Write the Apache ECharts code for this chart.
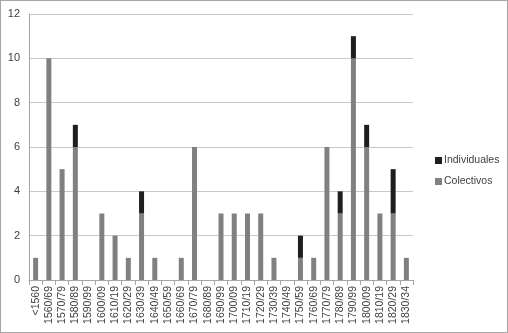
<!DOCTYPE html>
<html><head><meta charset="utf-8">
<script src="https://cdn.jsdelivr.net/npm/echarts@6/dist/echarts.min.js"></script>
<style>
html,body{margin:0;padding:0;background:#fff;}
#c{width:508px;height:333px;box-sizing:border-box;border:1px solid #a6a6a6;}
</style></head><body>
<div id="c"></div>
<script>
var categories = ['<1560','1560/69','1570/79','1580/89','1590/99','1600/09','1610/19','1620/29','1630/39','1640/49','1650/59','1660/69','1670/79','1680/89','1690/99','1700/09','1710/19','1720/29','1730/39','1740/49','1750/59','1760/69','1770/79','1780/89','1790/99','1800/09','1810/19','1820/29','1830/34'];
var colectivos = [1,10,5,6,0,3,2,1,3,1,0,1,6,0,3,3,3,3,1,0,1,1,6,3,10,6,3,3,1];
var individuales = [0,0,0,1,0,0,0,0,1,0,0,0,0,0,0,0,0,0,0,0,1,0,0,1,1,1,0,2,0];
var yTicks = {min:0, max:12, interval:2};

var chart = echarts.init(document.getElementById('c'), null, {renderer:'canvas'});
var font = 'Liberation Sans, Arial, sans-serif';
chart.setOption({
  animation:false,
  grid:{left:28, right:94, top:13, bottom:52, containLabel:false},
  legend:{
    orient:'vertical', left:429, top:149, itemWidth:7, itemHeight:7, itemGap:10,
    icon:'rect',
    textStyle:{fontFamily:font, fontSize:10.5, color:'#404040', padding:[0,0,0,-3]},
    data:['Individuales','Colectivos']
  },
  xAxis:{
    type:'category', data:categories,
    axisLine:{lineStyle:{color:'#a6a6a6'}},
    axisTick:{show:true, length:5, lineStyle:{color:'#a6a6a6'}, alignWithLabel:false},
    axisLabel:{rotate:90, interval:0, fontFamily:font, fontSize:10.5, color:'#404040', margin:6}
  },
  yAxis:{
    type:'value', min:yTicks.min, max:yTicks.max, interval:yTicks.interval,
    axisLine:{show:true, lineStyle:{color:'#a6a6a6'}},
    axisTick:{show:false},
    splitLine:{lineStyle:{color:'#c8c8c8'}},
    axisLabel:{fontFamily:font, fontSize:11, color:'#404040', margin:9}
  },
  series:[
    {name:'Colectivos', type:'bar', stack:'a', data:colectivos, barWidth:5, itemStyle:{color:'#808080'}},
    {name:'Individuales', type:'bar', stack:'a', data:individuales, barWidth:5, itemStyle:{color:'#1e1e1e'}}
  ]
});
</script></body></html>
